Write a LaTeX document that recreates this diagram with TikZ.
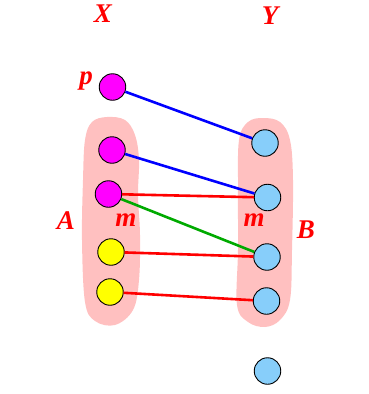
\documentclass[tikz,border=0pt]{standalone}
\usepackage{fontspec}
\setmainfont{Liberation Serif}
\usetikzlibrary{positioning}

\definecolor{elemmag}{RGB}{255,0,255}
\definecolor{elemyel}{RGB}{255,255,0}
\definecolor{elemsky}{RGB}{135,206,250}
\definecolor{blobpink}{RGB}{255,192,192}
\definecolor{linkblue}{RGB}{0,0,255}
\definecolor{linkred}{RGB}{255,0,0}
\definecolor{linkgreen}{RGB}{0,170,0}

\begin{document}
\begin{tikzpicture}[
    x=1pt, y=-1pt,
    every node/.style={font=\fontsize{27}{27}\selectfont\bfseries\itshape, text=linkred},
    elem/.style={circle, draw=black, line width=0.9pt, minimum size=26.5pt, inner sep=0pt},
    elemX/.style={elem, fill=elemmag},
    elemA/.style={elem, fill=elemyel},
    elemY/.style={elem, fill=elemsky},
    blob/.style={fill=blobpink, draw=none},
    link/.style={line width=2.6pt, #1}
]
\useasboundingbox (0,0) rectangle (368,394);

% === Pink sets A and B ===
\fill[blob] plot[smooth cycle, tension=0.6] coordinates {
    (107,117) (125,120) (135,135) (139,160) (138,195) (140,235) (139,280)
    (133,310) (115,325) (95,321) (85,302) (82,240) (83,180) (85,140) (92,122)};
\fill[blob] plot[smooth cycle, tension=0.6] coordinates {
    (263,118) (280,122) (290,140) (293,180) (292,250) (290,300) (280,320)
    (265,327) (248,322) (237,305) (238,250) (238,190) (239,140) (248,122)};

% === Labels ===
\node (labX) at (103,14) {X};
\node (labY) at (270,16) {Y};
\node (labp) at (86,81) {p};
\node (labA) at (66,221) {A};
\node (labB) at (306,230) {B};
\node (labmA) at (126,220) {m};
\node (labmB) at (254,220) {m};

% === Elements of X ===
\node[elemX] (p) at (112.5,87) {};
\node[elemX] (a1) at (112,150) {};
\node[elemX] (a2) at (108.5,194) {};
\node[elemA] (a3) at (111,252) {};
\node[elemA] (a4) at (110,292) {};

% === Elements of Y ===
\node[elemY] (b1) at (265,143) {};
\node[elemY] (b2) at (267.5,197.5) {};
\node[elemY] (b3) at (267,257) {};
\node[elemY] (b4) at (266.5,301) {};
\node[elemY] (b5) at (267.5,371) {};

% === Links ===
\draw[link=linkblue] (p) -- (b1);
\draw[link=linkblue] (a1) -- (b2);
\draw[link=linkred] (a2) -- (b2);
\draw[link=linkgreen] (a2) -- (b3);
\draw[link=linkred] (a3) -- (b3);
\draw[link=linkred] (a4) -- (b4);

\end{tikzpicture}
\end{document}
